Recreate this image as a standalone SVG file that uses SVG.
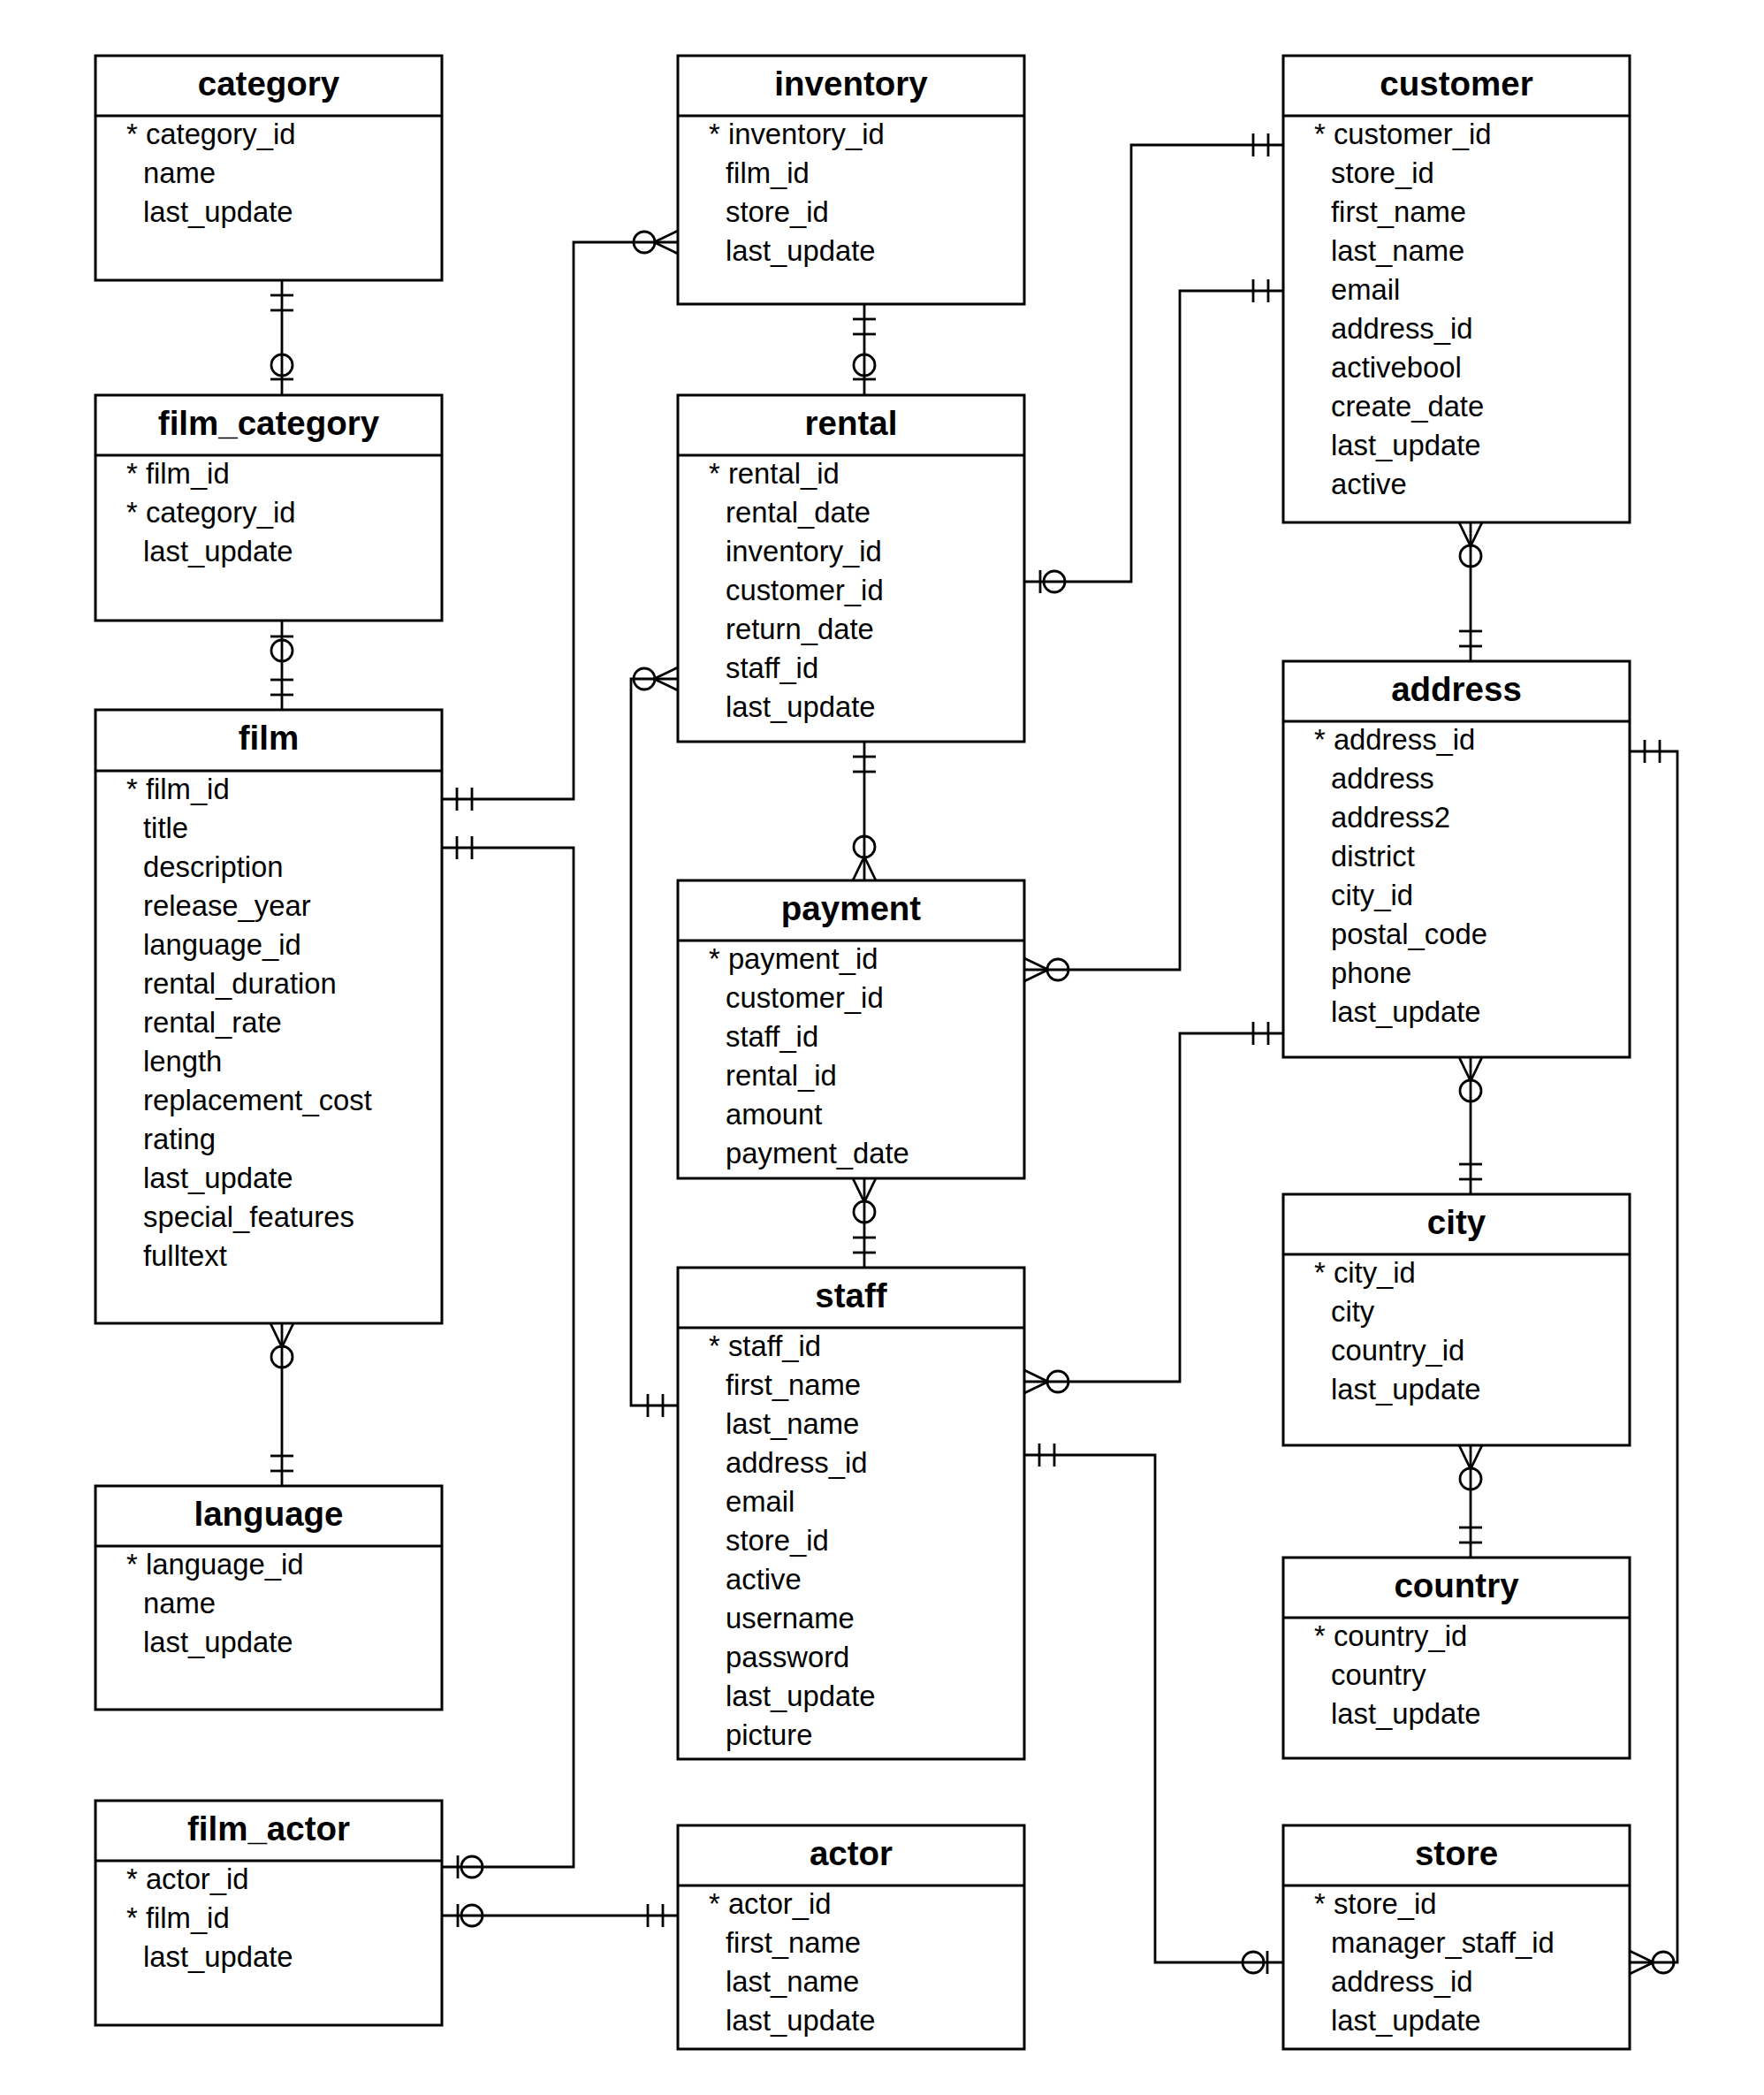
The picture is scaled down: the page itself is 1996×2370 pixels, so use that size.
<svg xmlns="http://www.w3.org/2000/svg" xmlns:xlink="http://www.w3.org/1999/xlink" width="1996" height="2370" viewBox="0 0 1996 2370">
<style>
.box{fill:#fff;stroke:#000;stroke-width:3}
.hdr{stroke:#000;stroke-width:3}
.title{font-family:"Liberation Sans",Arial,sans-serif;font-weight:bold;font-size:38.5px;text-anchor:middle;fill:#000}
.attr{font-family:"Liberation Sans",Arial,sans-serif;font-size:32.8px;fill:#000}
.conn{fill:none;stroke:#000;stroke-width:2.8}
.sym line,.sym circle{fill:none;stroke:#000;stroke-width:2.8}
</style>
<defs>
<g id="one" class="sym"><line x1="17" y1="-13" x2="17" y2="13"/><line x1="34" y1="-13" x2="34" y2="13"/></g>
<g id="zeroOne" class="sym"><line x1="18" y1="-13" x2="18" y2="13"/><circle cx="34" cy="0" r="12"/></g>
<g id="many0" class="sym"><line x1="0" y1="-13" x2="27" y2="0"/><line x1="0" y1="13" x2="27" y2="0"/><circle cx="38" cy="0" r="12"/></g>
</defs>
<rect width="1996" height="2370" fill="#fff"/>
<g id="connectors">
<path class="conn" d="M319,317 V447"/>
<use href="#one" transform="translate(319,317) rotate(90)"/>
<use href="#zeroOne" transform="translate(319,447) rotate(-90)"/>
<path class="conn" d="M319,702 V803"/>
<use href="#zeroOne" transform="translate(319,702) rotate(90)"/>
<use href="#one" transform="translate(319,803) rotate(-90)"/>
<path class="conn" d="M500,904 H649 V274 H767"/>
<use href="#one" transform="translate(500,904)"/>
<use href="#many0" transform="translate(767,274) rotate(180)"/>
<path class="conn" d="M500,959 H649 V2112 H500"/>
<use href="#one" transform="translate(500,959)"/>
<use href="#zeroOne" transform="translate(500,2112)"/>
<path class="conn" d="M319,1497 V1681"/>
<use href="#many0" transform="translate(319,1497) rotate(90)"/>
<use href="#one" transform="translate(319,1681) rotate(-90)"/>
<path class="conn" d="M500,2167 H767"/>
<use href="#zeroOne" transform="translate(500,2167)"/>
<use href="#one" transform="translate(767,2167) rotate(180)"/>
<path class="conn" d="M978,344 V447"/>
<use href="#one" transform="translate(978,344) rotate(90)"/>
<use href="#zeroOne" transform="translate(978,447) rotate(-90)"/>
<path class="conn" d="M1159,658 H1280 V164 H1452"/>
<use href="#zeroOne" transform="translate(1159,658)"/>
<use href="#one" transform="translate(1452,164) rotate(180)"/>
<path class="conn" d="M767,768 H714 V1590 H767"/>
<use href="#many0" transform="translate(767,768) rotate(180)"/>
<use href="#one" transform="translate(767,1590) rotate(180)"/>
<path class="conn" d="M978,839 V996"/>
<use href="#one" transform="translate(978,839) rotate(90)"/>
<use href="#many0" transform="translate(978,996) rotate(-90)"/>
<path class="conn" d="M1159,1097 H1335 V329 H1452"/>
<use href="#many0" transform="translate(1159,1097)"/>
<use href="#one" transform="translate(1452,329) rotate(180)"/>
<path class="conn" d="M978,1333 V1434"/>
<use href="#many0" transform="translate(978,1333) rotate(90)"/>
<use href="#one" transform="translate(978,1434) rotate(-90)"/>
<path class="conn" d="M1664,591 V748"/>
<use href="#many0" transform="translate(1664,591) rotate(90)"/>
<use href="#one" transform="translate(1664,748) rotate(-90)"/>
<path class="conn" d="M1159,1563 H1335 V1169 H1452"/>
<use href="#many0" transform="translate(1159,1563)"/>
<use href="#one" transform="translate(1452,1169) rotate(180)"/>
<path class="conn" d="M1844,850 H1898 V2220 H1844"/>
<use href="#one" transform="translate(1844,850)"/>
<use href="#many0" transform="translate(1844,2220)"/>
<path class="conn" d="M1159,1646 H1307 V2220 H1452"/>
<use href="#one" transform="translate(1159,1646)"/>
<use href="#zeroOne" transform="translate(1452,2220) rotate(180)"/>
<path class="conn" d="M1664,1196 V1351"/>
<use href="#many0" transform="translate(1664,1196) rotate(90)"/>
<use href="#one" transform="translate(1664,1351) rotate(-90)"/>
<path class="conn" d="M1664,1635 V1762"/>
<use href="#many0" transform="translate(1664,1635) rotate(90)"/>
<use href="#one" transform="translate(1664,1762) rotate(-90)"/>
</g>
<g id="category">
<rect class="box" x="108" y="63" width="392" height="254"/>
<line class="hdr" x1="108" y1="131" x2="500" y2="131"/>
<text class="title" x="304" y="108">category</text>
<text class="attr"><tspan x="143" y="163">* category_id</tspan><tspan x="162" y="207">name</tspan><tspan x="162" y="251">last_update</tspan></text>
</g>
<g id="film_category">
<rect class="box" x="108" y="447" width="392" height="255"/>
<line class="hdr" x1="108" y1="515" x2="500" y2="515"/>
<text class="title" x="304" y="492">film_category</text>
<text class="attr"><tspan x="143" y="547">* film_id</tspan><tspan x="143" y="591">* category_id</tspan><tspan x="162" y="635">last_update</tspan></text>
</g>
<g id="film">
<rect class="box" x="108" y="803" width="392" height="694"/>
<line class="hdr" x1="108" y1="872" x2="500" y2="872"/>
<text class="title" x="304" y="848">film</text>
<text class="attr"><tspan x="143" y="904">* film_id</tspan><tspan x="162" y="948">title</tspan><tspan x="162" y="992">description</tspan><tspan x="162" y="1036">release_year</tspan><tspan x="162" y="1080">language_id</tspan><tspan x="162" y="1124">rental_duration</tspan><tspan x="162" y="1168">rental_rate</tspan><tspan x="162" y="1212">length</tspan><tspan x="162" y="1256">replacement_cost</tspan><tspan x="162" y="1300">rating</tspan><tspan x="162" y="1344">last_update</tspan><tspan x="162" y="1388">special_features</tspan><tspan x="162" y="1432">fulltext</tspan></text>
</g>
<g id="language">
<rect class="box" x="108" y="1681" width="392" height="253"/>
<line class="hdr" x1="108" y1="1749" x2="500" y2="1749"/>
<text class="title" x="304" y="1726">language</text>
<text class="attr"><tspan x="143" y="1781">* language_id</tspan><tspan x="162" y="1825">name</tspan><tspan x="162" y="1869">last_update</tspan></text>
</g>
<g id="film_actor">
<rect class="box" x="108" y="2037" width="392" height="254"/>
<line class="hdr" x1="108" y1="2105" x2="500" y2="2105"/>
<text class="title" x="304" y="2082">film_actor</text>
<text class="attr"><tspan x="143" y="2137">* actor_id</tspan><tspan x="143" y="2181">* film_id</tspan><tspan x="162" y="2225">last_update</tspan></text>
</g>
<g id="inventory">
<rect class="box" x="767" y="63" width="392" height="281"/>
<line class="hdr" x1="767" y1="131" x2="1159" y2="131"/>
<text class="title" x="963" y="108">inventory</text>
<text class="attr"><tspan x="802" y="163">* inventory_id</tspan><tspan x="821" y="207">film_id</tspan><tspan x="821" y="251">store_id</tspan><tspan x="821" y="295">last_update</tspan></text>
</g>
<g id="rental">
<rect class="box" x="767" y="447" width="392" height="392"/>
<line class="hdr" x1="767" y1="515" x2="1159" y2="515"/>
<text class="title" x="963" y="492">rental</text>
<text class="attr"><tspan x="802" y="547">* rental_id</tspan><tspan x="821" y="591">rental_date</tspan><tspan x="821" y="635">inventory_id</tspan><tspan x="821" y="679">customer_id</tspan><tspan x="821" y="723">return_date</tspan><tspan x="821" y="767">staff_id</tspan><tspan x="821" y="811">last_update</tspan></text>
</g>
<g id="payment">
<rect class="box" x="767" y="996" width="392" height="337"/>
<line class="hdr" x1="767" y1="1064" x2="1159" y2="1064"/>
<text class="title" x="963" y="1041">payment</text>
<text class="attr"><tspan x="802" y="1096">* payment_id</tspan><tspan x="821" y="1140">customer_id</tspan><tspan x="821" y="1184">staff_id</tspan><tspan x="821" y="1228">rental_id</tspan><tspan x="821" y="1272">amount</tspan><tspan x="821" y="1316">payment_date</tspan></text>
</g>
<g id="staff">
<rect class="box" x="767" y="1434" width="392" height="556"/>
<line class="hdr" x1="767" y1="1502" x2="1159" y2="1502"/>
<text class="title" x="963" y="1479">staff</text>
<text class="attr"><tspan x="802" y="1534">* staff_id</tspan><tspan x="821" y="1578">first_name</tspan><tspan x="821" y="1622">last_name</tspan><tspan x="821" y="1666">address_id</tspan><tspan x="821" y="1710">email</tspan><tspan x="821" y="1754">store_id</tspan><tspan x="821" y="1798">active</tspan><tspan x="821" y="1842">username</tspan><tspan x="821" y="1886">password</tspan><tspan x="821" y="1930">last_update</tspan><tspan x="821" y="1974">picture</tspan></text>
</g>
<g id="actor">
<rect class="box" x="767" y="2065" width="392" height="253"/>
<line class="hdr" x1="767" y1="2133" x2="1159" y2="2133"/>
<text class="title" x="963" y="2110">actor</text>
<text class="attr"><tspan x="802" y="2165">* actor_id</tspan><tspan x="821" y="2209">first_name</tspan><tspan x="821" y="2253">last_name</tspan><tspan x="821" y="2297">last_update</tspan></text>
</g>
<g id="customer">
<rect class="box" x="1452" y="63" width="392" height="528"/>
<line class="hdr" x1="1452" y1="131" x2="1844" y2="131"/>
<text class="title" x="1648" y="108">customer</text>
<text class="attr"><tspan x="1487" y="163">* customer_id</tspan><tspan x="1506" y="207">store_id</tspan><tspan x="1506" y="251">first_name</tspan><tspan x="1506" y="295">last_name</tspan><tspan x="1506" y="339">email</tspan><tspan x="1506" y="383">address_id</tspan><tspan x="1506" y="427">activebool</tspan><tspan x="1506" y="471">create_date</tspan><tspan x="1506" y="515">last_update</tspan><tspan x="1506" y="559">active</tspan></text>
</g>
<g id="address">
<rect class="box" x="1452" y="748" width="392" height="448"/>
<line class="hdr" x1="1452" y1="816" x2="1844" y2="816"/>
<text class="title" x="1648" y="793">address</text>
<text class="attr"><tspan x="1487" y="848">* address_id</tspan><tspan x="1506" y="892">address</tspan><tspan x="1506" y="936">address2</tspan><tspan x="1506" y="980">district</tspan><tspan x="1506" y="1024">city_id</tspan><tspan x="1506" y="1068">postal_code</tspan><tspan x="1506" y="1112">phone</tspan><tspan x="1506" y="1156">last_update</tspan></text>
</g>
<g id="city">
<rect class="box" x="1452" y="1351" width="392" height="284"/>
<line class="hdr" x1="1452" y1="1419" x2="1844" y2="1419"/>
<text class="title" x="1648" y="1396">city</text>
<text class="attr"><tspan x="1487" y="1451">* city_id</tspan><tspan x="1506" y="1495">city</tspan><tspan x="1506" y="1539">country_id</tspan><tspan x="1506" y="1583">last_update</tspan></text>
</g>
<g id="country">
<rect class="box" x="1452" y="1762" width="392" height="227"/>
<line class="hdr" x1="1452" y1="1830" x2="1844" y2="1830"/>
<text class="title" x="1648" y="1807">country</text>
<text class="attr"><tspan x="1487" y="1862">* country_id</tspan><tspan x="1506" y="1906">country</tspan><tspan x="1506" y="1950">last_update</tspan></text>
</g>
<g id="store">
<rect class="box" x="1452" y="2065" width="392" height="253"/>
<line class="hdr" x1="1452" y1="2133" x2="1844" y2="2133"/>
<text class="title" x="1648" y="2110">store</text>
<text class="attr"><tspan x="1487" y="2165">* store_id</tspan><tspan x="1506" y="2209">manager_staff_id</tspan><tspan x="1506" y="2253">address_id</tspan><tspan x="1506" y="2297">last_update</tspan></text>
</g>
</svg>
